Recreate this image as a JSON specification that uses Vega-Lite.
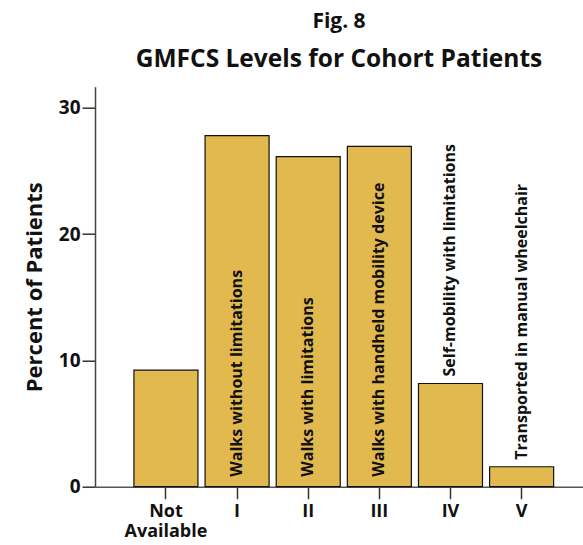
{
  "$schema": "https://vega.github.io/schema/vega-lite/v6.json",
  "width": 488,
  "height": 400,
  "autosize": {"type": "none"},
  "padding": {"left": 95, "top": 86.7, "right": 0, "bottom": 58.3},
  "background": "white",
  "config": {
    "view": {"stroke": null},
    "font": "Open Sans"
  },
  "title": {
    "text": "Fig. 8",
    "subtitle": "GMFCS Levels for Cohort Patients",
    "anchor": "middle",
    "font": "Open Sans",
    "fontSize": 21,
    "fontWeight": "bold",
    "color": "#111",
    "subtitleFont": "Open Sans",
    "subtitleFontSize": 24.5,
    "subtitleFontWeight": "bold",
    "subtitleColor": "#111",
    "subtitlePadding": 16,
    "offset": 15
  },
  "data": {
    "values": [
      {"level": "Not Available", "pct": 9.22, "desc": ""},
      {"level": "I", "pct": 27.78, "desc": "Walks without limitations"},
      {"level": "II", "pct": 26.12, "desc": "Walks with limitations"},
      {"level": "III", "pct": 26.93, "desc": "Walks with handheld mobility device"},
      {"level": "IV", "pct": 8.17, "desc": "Self-mobility with limitations"},
      {"level": "V", "pct": 1.58, "desc": "Transported in manual wheelchair"}
    ]
  },
  "encoding": {
    "x": {
      "field": "level",
      "type": "nominal",
      "sort": null,
      "scale": {"paddingInner": 0.1, "paddingOuter": 0.48, "align": 0.57},
      "axis": {
        "title": null,
        "labelAngle": 0,
        "labelFont": "Open Sans",
        "labelFontSize": 18,
        "labelFontWeight": "bold",
        "labelColor": "#111",
        "labelPadding": 4,
        "labelLineHeight": 20,
        "labelExpr": "split(datum.label, ' ')",
        "tickSize": 12,
        "tickColor": "#333",
        "tickWidth": 1.5,
        "domainColor": "#555",
        "domainWidth": 1.5
      }
    }
  },
  "layer": [
    {
      "mark": {"type": "bar", "fill": "#E2B94F", "stroke": "#111", "strokeWidth": 1.2},
      "encoding": {
        "y": {
          "field": "pct",
          "type": "quantitative",
          "scale": {"domain": [0, 31.66], "nice": false},
          "axis": {
            "title": "Percent of Patients",
            "titleFont": "Open Sans",
            "titleFontSize": 22,
            "titleFontWeight": "bold",
            "titleColor": "#111",
            "titlePadding": 12,
            "values": [0, 10, 20, 30],
            "grid": false,
            "labelFont": "Open Sans",
            "labelFontSize": 19,
            "labelFontWeight": "bold",
            "labelColor": "#111",
            "labelPadding": 2,
            "tickSize": 13,
            "tickColor": "#333",
            "tickWidth": 1.5,
            "domainColor": "#444",
            "domainWidth": 1.5
          }
        }
      }
    },
    {
      "transform": [{"filter": "indexof(['I','II','III'], datum.level) >= 0"}],
      "mark": {"type": "text", "angle": 270, "align": "left", "baseline": "middle", "dx": 10, "font": "Open Sans", "fontSize": 16, "fontWeight": "bold", "color": "#111"},
      "encoding": {
        "y": {"datum": 0, "type": "quantitative"},
        "text": {"field": "desc"}
      }
    },
    {
      "transform": [{"filter": "indexof(['IV','V'], datum.level) >= 0"}],
      "mark": {"type": "text", "angle": 270, "align": "left", "baseline": "middle", "dx": 7, "font": "Open Sans", "fontSize": 16, "fontWeight": "bold", "color": "#111"},
      "encoding": {
        "y": {"field": "pct", "type": "quantitative"},
        "text": {"field": "desc"}
      }
    }
  ]
}
